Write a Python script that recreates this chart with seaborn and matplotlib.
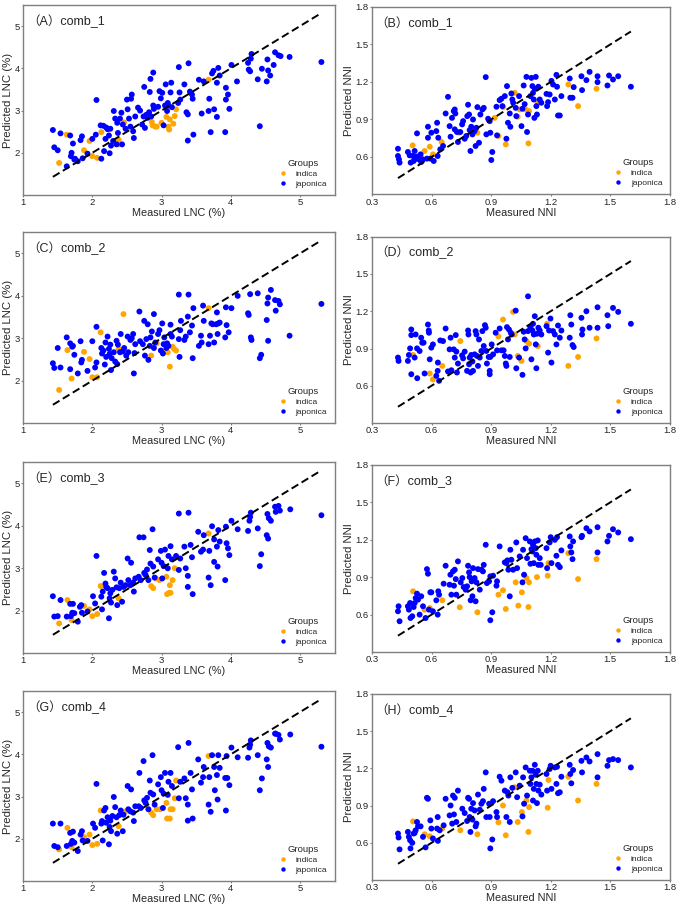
import pandas as pd
import matplotlib
matplotlib.use("Agg")
import matplotlib.pyplot as plt
import seaborn as sns

# ----------------------------
# Data: (measured, predicted) pairs per panel and group
# ----------------------------
A_indica = [(1.52, 1.76), (1.63, 2.43), (1.88, 2.06), (1.96, 2.28), (2.00, 1.92), (2.07, 1.88),
            (2.13, 2.49), (2.38, 2.31), (2.39, 2.20), (2.46, 2.72), (2.86, 2.73), (2.87, 2.65),
            (2.91, 2.62), (2.93, 2.62), (3.00, 2.71), (3.07, 2.85), (3.10, 2.62), (3.11, 2.55),
            (3.12, 2.79), (3.17, 2.69), (3.19, 2.87), (3.21, 3.03), (3.68, 3.73)]
A_japonica = [(1.43, 2.54), (1.45, 2.13), (1.50, 2.06), (1.54, 2.46), (1.63, 1.68), (1.68, 2.41),
              (1.69, 1.92), (1.70, 2.00), (1.72, 2.22), (1.74, 1.84), (1.75, 1.86), (1.79, 1.80),
              (1.83, 2.30), (1.85, 2.39), (1.86, 1.87), (1.93, 1.98), (2.00, 2.33), (2.05, 2.43),
              (2.06, 3.25), (2.12, 2.65), (2.13, 1.86), (2.16, 2.64), (2.17, 2.04), (2.19, 2.33),
              (2.20, 2.60), (2.22, 2.56), (2.24, 2.41), (2.25, 1.99), (2.26, 2.57), (2.27, 2.17),
              (2.30, 2.28), (2.31, 2.99), (2.33, 2.81), (2.35, 2.20), (2.36, 2.71), (2.37, 2.47),
              (2.40, 2.81), (2.42, 2.95), (2.43, 2.20), (2.44, 2.67), (2.48, 2.57), (2.50, 3.26),
              (2.51, 3.03), (2.53, 2.81), (2.55, 2.62), (2.56, 3.28), (2.57, 3.38), (2.59, 2.51),
              (2.60, 2.35), (2.62, 2.86), (2.66, 3.07), (2.69, 3.00), (2.72, 2.67), (2.74, 2.86),
              (2.75, 3.56), (2.76, 2.59), (2.78, 2.90), (2.80, 2.83), (2.82, 2.96), (2.83, 3.44),
              (2.84, 3.75), (2.85, 2.86), (2.88, 3.90), (2.88, 3.12), (2.89, 3.04), (2.95, 3.09),
              (2.97, 3.46), (2.99, 3.29), (3.01, 3.42), (3.03, 2.65), (3.05, 3.12), (3.06, 3.62),
              (3.08, 2.99), (3.09, 3.18), (3.10, 3.12), (3.13, 3.43), (3.14, 3.66), (3.15, 3.08),
              (3.24, 3.18), (3.25, 4.03), (3.26, 3.43), (3.27, 3.26), (3.33, 3.62), (3.36, 2.96),
              (3.38, 2.91), (3.38, 2.29), (3.39, 4.12), (3.41, 3.45), (3.44, 3.38), (3.45, 3.28),
              (3.46, 2.43), (3.54, 3.73), (3.58, 2.93), (3.61, 3.69), (3.68, 2.99), (3.69, 3.28),
              (3.71, 2.49), (3.73, 3.88), (3.75, 3.94), (3.76, 3.03), (3.80, 3.66), (3.80, 2.85),
              (3.82, 4.01), (3.84, 3.83), (3.92, 2.49), (3.93, 3.54), (3.93, 3.26), (3.96, 3.38),
              (3.98, 3.04), (4.01, 4.08), (4.09, 3.69), (4.25, 4.13), (4.26, 3.97), (4.28, 3.93),
              (4.29, 4.23), (4.30, 4.34), (4.39, 3.74), (4.42, 2.63), (4.45, 3.99), (4.52, 3.69),
              (4.53, 4.21), (4.54, 3.95), (4.57, 3.83), (4.62, 4.08), (4.64, 4.38), (4.69, 4.31),
              (4.72, 4.29), (4.85, 4.27), (5.31, 4.15)]

B_indica = [(0.505, 0.693), (0.565, 0.648), (0.591, 0.682), (0.607, 0.621), (0.651, 0.720),
            (0.738, 0.794), (0.831, 0.794), (0.918, 0.913), (0.937, 0.768), (0.960, 0.999),
            (0.974, 0.701), (1.019, 1.113), (1.034, 0.922), (1.044, 0.980), (1.074, 0.980),
            (1.088, 0.709), (1.091, 0.967), (1.135, 1.034), (1.289, 1.180), (1.338, 1.007),
            (1.431, 1.146)]
B_japonica = [(0.431, 0.666), (0.431, 0.608), (0.436, 0.581), (0.439, 0.555), (0.481, 0.640),
              (0.490, 0.613), (0.495, 0.555), (0.507, 0.608), (0.510, 0.568), (0.515, 0.648),
              (0.520, 0.587), (0.527, 0.789), (0.527, 0.603), (0.537, 0.581), (0.545, 0.621),
              (0.548, 0.560), (0.557, 0.581), (0.577, 0.587), (0.582, 0.842), (0.582, 0.754),
              (0.594, 0.587), (0.599, 0.794), (0.611, 0.568), (0.624, 0.807), (0.628, 0.874),
              (0.631, 0.608), (0.634, 0.754), (0.644, 0.661), (0.658, 0.688), (0.671, 0.948),
              (0.683, 1.081), (0.691, 0.847), (0.696, 0.762), (0.703, 0.913), (0.712, 0.967),
              (0.717, 0.980), (0.720, 0.948), (0.717, 0.821), (0.728, 0.800), (0.733, 0.720),
              (0.745, 0.800), (0.754, 0.861), (0.759, 0.887), (0.767, 0.746), (0.775, 0.768),
              (0.780, 0.927), (0.784, 1.018), (0.789, 0.940), (0.792, 0.815), (0.796, 0.648),
              (0.800, 0.842), (0.806, 0.781), (0.809, 0.900), (0.817, 0.807), (0.826, 0.834),
              (0.822, 0.688), (0.831, 0.999), (0.839, 0.714), (0.846, 0.940), (0.856, 0.980),
              (0.863, 0.993), (0.873, 1.239), (0.876, 0.781), (0.885, 0.906), (0.893, 0.887),
              (0.896, 0.794), (0.901, 0.576), (0.906, 0.640), (0.927, 1.002), (0.930, 0.773),
              (0.943, 1.055), (0.952, 1.066), (0.957, 1.007), (0.969, 1.087), (0.977, 0.746),
              (0.980, 1.167), (0.985, 0.874), (0.994, 0.948), (0.997, 0.842), (1.002, 1.108),
              (1.007, 1.060), (1.011, 1.034), (1.024, 0.993), (1.027, 0.927), (1.041, 1.087),
              (1.053, 0.847), (1.058, 0.986), (1.064, 1.172), (1.069, 1.023), (1.078, 1.241),
              (1.081, 0.800), (1.086, 0.940), (1.098, 1.087), (1.103, 1.233), (1.108, 1.167),
              (1.111, 1.113), (1.115, 1.060), (1.118, 0.913), (1.120, 1.146), (1.125, 1.241),
              (1.128, 1.007), (1.131, 0.940), (1.138, 1.162), (1.145, 1.060), (1.153, 1.034),
              (1.179, 1.105), (1.182, 1.007), (1.187, 1.039), (1.195, 1.100), (1.204, 1.209),
              (1.212, 1.180), (1.221, 1.060), (1.229, 1.257), (1.232, 1.162), (1.237, 0.932),
              (1.246, 0.932), (1.254, 1.087), (1.296, 1.228), (1.299, 1.074), (1.310, 1.074),
              (1.316, 1.159), (1.355, 1.246), (1.358, 1.135), (1.380, 1.215), (1.396, 1.281),
              (1.436, 1.246), (1.436, 1.199), (1.486, 1.172), (1.494, 1.252), (1.514, 1.220),
              (1.540, 1.246), (1.604, 1.162)]

C_indica = [(1.52, 1.78), (1.64, 2.72), (1.70, 2.05), (1.88, 2.68), (1.96, 2.51), (2.00, 2.08),
            (2.07, 2.08), (2.12, 3.14), (2.38, 2.75), (2.45, 3.57), (2.85, 2.59), (2.93, 2.88),
            (3.05, 2.69), (3.09, 2.67), (3.12, 2.33), (3.16, 2.80), (3.18, 2.75), (3.21, 2.71),
            (3.68, 3.71)]
C_japonica = [(1.43, 2.41), (1.45, 2.30), (1.50, 2.77), (1.54, 2.31), (1.63, 3.02), (1.68, 2.27),
              (1.68, 2.88), (1.71, 2.80), (1.72, 2.82), (1.74, 2.61), (1.79, 2.17), (1.83, 2.93),
              (1.84, 2.43), (1.85, 2.49), (1.93, 2.23), (2.00, 2.93), (2.04, 2.31), (2.06, 3.27),
              (2.06, 2.43), (2.13, 2.77), (2.14, 2.64), (2.16, 2.71), (2.18, 2.38), (2.19, 2.90),
              (2.20, 2.56), (2.22, 3.04), (2.24, 2.75), (2.25, 2.63), (2.26, 2.85), (2.27, 2.25),
              (2.28, 2.53), (2.31, 2.67), (2.33, 2.45), (2.35, 2.94), (2.36, 2.39), (2.37, 2.85),
              (2.40, 2.67), (2.41, 3.10), (2.44, 2.69), (2.46, 2.77), (2.49, 2.59), (2.51, 3.04),
              (2.52, 2.67), (2.55, 2.96), (2.57, 3.00), (2.59, 3.10), (2.60, 2.17), (2.61, 2.65),
              (2.62, 2.86), (2.68, 3.63), (2.69, 2.93), (2.73, 2.86), (2.75, 3.41), (2.76, 2.59),
              (2.78, 2.98), (2.80, 3.33), (2.81, 2.49), (2.83, 2.82), (2.84, 3.02), (2.86, 3.16),
              (2.89, 3.57), (2.89, 2.77), (2.91, 2.90), (2.95, 3.10), (2.97, 3.19), (2.99, 2.71),
              (3.01, 3.35), (3.02, 2.64), (3.03, 2.86), (3.04, 3.02), (3.07, 2.77), (3.08, 2.88),
              (3.10, 2.82), (3.13, 3.32), (3.13, 3.10), (3.15, 3.04), (3.25, 4.03), (3.25, 2.98),
              (3.26, 2.56), (3.27, 3.19), (3.28, 3.41), (3.33, 2.96), (3.35, 3.04), (3.38, 3.51),
              (3.39, 4.03), (3.41, 3.14), (3.44, 3.30), (3.45, 2.53), (3.46, 3.71), (3.54, 2.82),
              (3.57, 3.06), (3.58, 2.90), (3.60, 3.77), (3.61, 3.41), (3.68, 2.86), (3.70, 3.06),
              (3.72, 3.35), (3.74, 3.33), (3.76, 2.90), (3.79, 3.33), (3.80, 3.61), (3.81, 3.10),
              (3.82, 3.35), (3.84, 3.37), (3.92, 3.02), (3.93, 3.73), (3.94, 3.31), (3.97, 3.14),
              (4.01, 3.71), (4.10, 4.00), (4.25, 3.59), (4.26, 3.55), (4.28, 4.04), (4.29, 3.02),
              (4.30, 2.96), (4.39, 4.06), (4.42, 2.53), (4.44, 2.61), (4.52, 3.43), (4.53, 3.82),
              (4.54, 3.96), (4.54, 2.94), (4.58, 4.14), (4.64, 3.90), (4.65, 3.65), (4.69, 3.88),
              (4.71, 3.80), (4.85, 3.06), (5.31, 3.81)]

D_indica = [(0.507, 0.848), (0.591, 0.699), (0.607, 0.651), (0.654, 0.760), (0.745, 0.960),
            (0.937, 0.997), (0.960, 1.133), (1.011, 1.195), (1.019, 1.013), (1.034, 0.840),
            (1.053, 0.800), (1.078, 0.960), (1.091, 0.939), (1.135, 0.920), (1.182, 1.099),
            (1.289, 0.760), (1.338, 0.832), (1.431, 0.981)]
D_japonica = [(0.431, 0.827), (0.434, 0.800), (0.481, 0.800), (0.486, 0.848), (0.492, 0.901),
              (0.498, 1.053), (0.498, 1.008), (0.498, 0.693), (0.515, 0.827), (0.520, 1.013),
              (0.527, 0.901), (0.528, 0.661), (0.540, 0.880), (0.548, 0.987), (0.553, 0.947),
              (0.560, 0.947), (0.565, 0.699), (0.582, 1.093), (0.586, 1.045), (0.587, 1.027),
              (0.591, 0.813), (0.599, 0.907), (0.607, 0.933), (0.624, 0.680), (0.631, 0.720),
              (0.632, 0.787), (0.638, 0.640), (0.644, 0.965), (0.658, 0.960), (0.671, 1.061),
              (0.683, 0.715), (0.691, 0.893), (0.696, 0.987), (0.700, 0.725), (0.712, 0.893),
              (0.717, 0.827), (0.722, 1.008), (0.725, 0.875), (0.728, 0.707), (0.733, 0.779),
              (0.754, 0.845), (0.759, 0.821), (0.767, 0.875), (0.779, 0.720), (0.784, 1.045),
              (0.786, 1.013), (0.789, 0.773), (0.792, 0.827), (0.797, 0.707), (0.800, 0.848),
              (0.806, 0.795), (0.809, 0.720), (0.817, 0.853), (0.822, 1.040), (0.826, 1.013),
              (0.829, 0.840), (0.834, 0.760), (0.839, 0.973), (0.843, 0.827), (0.851, 0.880),
              (0.856, 1.040), (0.863, 0.920), (0.869, 1.088), (0.873, 1.067), (0.876, 0.880),
              (0.879, 0.779), (0.888, 0.832), (0.893, 0.720), (0.893, 0.693), (0.896, 0.832),
              (0.903, 0.933), (0.910, 0.853), (0.923, 1.027), (0.930, 0.885), (0.943, 1.061),
              (0.952, 0.885), (0.963, 0.885), (0.969, 0.840), (0.974, 0.779), (0.977, 0.760),
              (0.980, 1.072), (0.985, 0.973), (0.990, 1.053), (0.994, 0.832), (0.999, 1.027),
              (1.004, 1.013), (1.024, 1.205), (1.027, 0.741), (1.041, 0.827), (1.058, 0.688),
              (1.064, 1.035), (1.069, 0.973), (1.074, 0.901), (1.086, 1.320), (1.086, 1.040),
              (1.098, 1.067), (1.103, 0.813), (1.108, 1.045), (1.111, 1.099), (1.115, 1.013),
              (1.120, 1.160), (1.125, 0.933), (1.128, 0.741), (1.131, 1.019), (1.138, 1.067),
              (1.145, 1.045), (1.153, 1.013), (1.179, 1.080), (1.187, 0.867), (1.192, 1.045),
              (1.199, 1.141), (1.204, 0.787), (1.212, 1.040), (1.221, 1.013), (1.229, 0.933),
              (1.237, 1.085), (1.246, 0.987), (1.254, 1.045), (1.296, 0.987), (1.299, 1.168),
              (1.304, 1.093), (1.310, 0.928), (1.316, 0.912), (1.355, 1.147), (1.360, 1.053),
              (1.358, 1.013), (1.380, 1.200), (1.396, 1.067), (1.436, 1.232), (1.436, 1.067),
              (1.486, 1.168), (1.490, 1.080), (1.514, 1.227), (1.540, 1.195), (1.604, 1.099)]

E_indica = [(1.52, 1.70), (1.64, 2.25), (1.70, 1.78), (1.88, 2.11), (1.96, 2.03), (2.00, 1.87),
            (2.07, 1.92), (2.12, 2.58), (2.38, 2.29), (2.85, 2.58), (2.88, 2.53), (2.92, 2.76),
            (2.97, 2.72), (3.07, 2.80), (3.08, 2.39), (3.11, 2.42), (3.12, 2.60), (3.13, 2.42),
            (3.16, 2.72), (3.19, 3.00), (3.68, 3.82)]
E_japonica = [(1.43, 2.34), (1.45, 1.86), (1.50, 1.87), (1.54, 2.25), (1.63, 1.86), (1.68, 2.16),
              (1.69, 1.87), (1.71, 1.95), (1.72, 2.16), (1.74, 1.94), (1.79, 1.74), (1.82, 2.09),
              (1.84, 2.13), (1.85, 1.95), (1.93, 1.98), (2.01, 2.34), (2.04, 2.17), (2.06, 3.29),
              (2.13, 2.33), (2.14, 2.03), (2.15, 2.45), (2.17, 2.89), (2.19, 2.64), (2.20, 2.56),
              (2.22, 2.53), (2.24, 1.82), (2.25, 2.29), (2.26, 2.41), (2.27, 2.19), (2.29, 2.49),
              (2.31, 2.92), (2.33, 2.76), (2.35, 2.55), (2.36, 2.13), (2.39, 2.53), (2.41, 2.66),
              (2.43, 2.21), (2.45, 2.56), (2.48, 2.60), (2.51, 3.23), (2.52, 2.72), (2.55, 2.60),
              (2.56, 3.13), (2.59, 2.66), (2.60, 2.45), (2.62, 2.76), (2.67, 2.80), (2.68, 3.73),
              (2.70, 2.72), (2.74, 3.73), (2.75, 2.89), (2.77, 2.84), (2.79, 2.97), (2.81, 2.72),
              (2.83, 3.43), (2.84, 3.11), (2.87, 3.92), (2.88, 3.04), (2.90, 2.78), (2.95, 3.21),
              (2.99, 3.41), (3.00, 3.13), (3.01, 2.76), (3.03, 3.05), (3.05, 3.44), (3.09, 3.00),
              (3.10, 3.29), (3.13, 3.52), (3.15, 3.21), (3.21, 3.29), (3.25, 4.29), (3.25, 2.96),
              (3.27, 3.23), (3.33, 3.51), (3.35, 3.00), (3.38, 2.82), (3.38, 2.56), (3.39, 4.31),
              (3.42, 3.55), (3.44, 3.26), (3.45, 2.39), (3.53, 3.86), (3.57, 3.39), (3.60, 3.44),
              (3.61, 3.78), (3.68, 2.78), (3.69, 3.41), (3.71, 2.60), (3.73, 3.99), (3.76, 3.68),
              (3.76, 3.15), (3.80, 3.51), (3.81, 3.04), (3.82, 3.90), (3.84, 3.63), (3.92, 2.72),
              (3.93, 3.98), (3.94, 3.59), (3.96, 3.47), (3.98, 3.31), (4.01, 4.12), (4.10, 3.92),
              (4.25, 3.88), (4.27, 4.12), (4.28, 4.21), (4.29, 4.31), (4.39, 3.94), (4.42, 3.05),
              (4.44, 3.33), (4.52, 3.78), (4.53, 4.28), (4.54, 3.70), (4.55, 4.18), (4.58, 4.12),
              (4.64, 4.45), (4.65, 4.33), (4.69, 4.47), (4.71, 4.36), (4.86, 4.39), (5.31, 4.25)]

F_indica = [(0.507, 0.787), (0.565, 0.640), (0.591, 0.653), (0.654, 0.715), (0.742, 0.659),
            (0.831, 0.619), (0.937, 0.760), (0.960, 0.795), (0.974, 0.645), (1.024, 0.859),
            (1.037, 0.672), (1.055, 0.779), (1.078, 0.893), (1.088, 0.661), (1.091, 0.859),
            (1.131, 0.901), (1.185, 0.912), (1.189, 1.013), (1.289, 1.093), (1.338, 0.885),
            (1.431, 1.045)]
F_japonica = [(0.431, 0.627), (0.434, 0.667), (0.439, 0.547), (0.481, 0.667), (0.486, 0.640),
              (0.492, 0.693), (0.494, 0.573), (0.503, 0.587), (0.510, 0.661), (0.515, 0.693),
              (0.520, 0.733), (0.527, 0.768), (0.532, 0.720), (0.540, 0.600), (0.548, 0.747),
              (0.557, 0.667), (0.570, 0.573), (0.577, 0.965), (0.582, 0.928), (0.587, 0.640),
              (0.594, 0.779), (0.599, 0.779), (0.607, 0.627), (0.624, 0.715), (0.631, 0.600),
              (0.634, 0.787), (0.638, 0.760), (0.661, 0.848), (0.671, 0.992), (0.691, 0.840),
              (0.695, 0.920), (0.700, 0.760), (0.708, 0.947), (0.713, 0.832), (0.717, 0.960),
              (0.722, 0.885), (0.725, 0.760), (0.733, 1.027), (0.747, 0.859), (0.755, 0.893),
              (0.762, 0.821), (0.772, 0.800), (0.779, 0.827), (0.784, 0.992), (0.789, 0.939),
              (0.792, 0.901), (0.797, 0.715), (0.802, 0.867), (0.806, 0.747), (0.809, 0.973),
              (0.817, 0.893), (0.826, 0.859), (0.822, 0.707), (0.834, 0.965), (0.843, 0.800),
              (0.851, 0.960), (0.859, 0.947), (0.863, 0.999), (0.873, 1.160), (0.879, 0.853),
              (0.890, 0.867), (0.896, 0.907), (0.896, 0.555), (0.906, 0.619), (0.910, 0.912),
              (0.927, 0.832), (0.930, 0.867), (0.943, 1.147), (0.969, 1.019), (0.977, 1.013),
              (0.982, 1.035), (0.987, 0.960), (0.994, 0.747), (0.997, 1.120), (1.002, 1.040),
              (1.011, 0.960), (1.027, 1.179), (1.031, 0.973), (1.044, 1.067), (1.058, 0.859),
              (1.061, 1.120), (1.066, 0.920), (1.074, 1.213), (1.081, 1.053), (1.095, 1.187),
              (1.098, 1.008), (1.103, 1.125), (1.108, 1.107), (1.111, 1.160), (1.115, 1.013),
              (1.120, 1.187), (1.125, 1.133), (1.128, 1.080), (1.135, 1.195), (1.138, 0.999),
              (1.145, 1.053), (1.150, 0.999), (1.179, 1.133), (1.182, 0.973), (1.195, 1.179),
              (1.200, 1.221), (1.204, 1.013), (1.221, 1.200), (1.229, 1.072), (1.232, 1.221),
              (1.237, 0.999), (1.246, 0.981), (1.254, 1.115), (1.296, 1.227), (1.299, 1.147),
              (1.304, 1.099), (1.310, 1.045), (1.313, 1.187), (1.355, 1.221), (1.358, 1.232),
              (1.380, 1.293), (1.396, 1.267), (1.436, 1.301), (1.436, 1.099), (1.486, 1.187),
              (1.494, 1.232), (1.514, 1.285), (1.540, 1.259), (1.604, 1.205)]

G_indica = [(1.52, 1.75), (1.64, 2.26), (1.70, 1.80), (1.88, 2.04), (1.96, 2.10), (2.00, 1.85),
            (2.07, 1.88), (2.12, 2.67), (2.38, 2.30), (2.48, 2.65), (2.85, 2.62), (2.88, 2.56),
            (2.93, 2.70), (2.98, 2.70), (3.07, 2.85), (3.08, 2.48), (3.12, 2.48), (3.13, 2.70),
            (3.16, 2.70), (3.19, 2.96), (3.21, 3.38), (3.68, 3.96)]
G_japonica = [(1.43, 2.36), (1.45, 1.83), (1.50, 1.80), (1.54, 2.36), (1.63, 1.83), (1.68, 2.14),
              (1.69, 1.88), (1.71, 1.95), (1.72, 2.17), (1.74, 1.91), (1.79, 1.71), (1.83, 2.10),
              (1.85, 2.18), (1.86, 1.96), (1.93, 1.95), (2.01, 2.36), (2.04, 2.26), (2.06, 3.30),
              (2.13, 2.36), (2.14, 2.42), (2.15, 1.96), (2.17, 2.67), (2.19, 2.73), (2.20, 2.38),
              (2.22, 2.51), (2.24, 1.87), (2.25, 2.28), (2.26, 2.43), (2.27, 2.18), (2.29, 2.54),
              (2.31, 2.99), (2.33, 2.75), (2.35, 2.51), (2.36, 2.12), (2.39, 2.56), (2.41, 2.67),
              (2.44, 2.18), (2.45, 2.57), (2.51, 3.25), (2.52, 2.70), (2.55, 2.65), (2.56, 3.17),
              (2.59, 2.62), (2.60, 2.42), (2.62, 2.77), (2.67, 2.77), (2.68, 3.56), (2.70, 2.73),
              (2.74, 3.84), (2.75, 2.91), (2.77, 2.85), (2.79, 2.97), (2.81, 2.70), (2.83, 3.38),
              (2.84, 3.09), (2.87, 3.98), (2.88, 3.05), (2.90, 2.81), (2.95, 3.29), (2.99, 3.46),
              (3.00, 3.15), (3.02, 2.73), (3.03, 3.07), (3.05, 3.56), (3.09, 3.04), (3.10, 3.35),
              (3.13, 3.56), (3.15, 3.25), (3.24, 4.17), (3.25, 2.96), (3.27, 3.35), (3.33, 3.43),
              (3.35, 2.96), (3.38, 2.81), (3.38, 2.43), (3.39, 4.27), (3.42, 3.56), (3.44, 3.17),
              (3.45, 2.48), (3.53, 3.88), (3.57, 3.33), (3.60, 3.46), (3.61, 3.70), (3.68, 2.81),
              (3.69, 3.46), (3.71, 2.64), (3.73, 3.98), (3.76, 3.70), (3.77, 3.15), (3.80, 3.51),
              (3.81, 2.93), (3.82, 3.98), (3.84, 3.68), (3.92, 3.44), (3.93, 2.67), (3.94, 3.96),
              (3.95, 3.44), (3.98, 3.27), (4.01, 4.16), (4.10, 3.93), (4.25, 3.92), (4.27, 4.16),
              (4.28, 4.23), (4.29, 4.33), (4.39, 3.98), (4.42, 3.15), (4.45, 3.43), (4.52, 3.88),
              (4.53, 4.27), (4.54, 3.70), (4.55, 4.19), (4.58, 4.16), (4.64, 4.49), (4.65, 4.49),
              (4.69, 4.46), (4.71, 4.35), (4.86, 4.47), (5.31, 4.18)]

H_indica = [(0.507, 0.773), (0.565, 0.669), (0.591, 0.653), (0.654, 0.715), (0.745, 0.701),
            (0.831, 0.669), (0.937, 0.765), (0.960, 0.901), (0.974, 0.661), (1.019, 1.048),
            (1.034, 0.768), (1.055, 0.848), (1.078, 0.941), (1.088, 0.688), (1.091, 0.888),
            (1.185, 0.883), (1.189, 1.107), (1.289, 1.133), (1.338, 0.941), (1.431, 1.075)]
H_japonica = [(0.431, 0.675), (0.434, 0.643), (0.439, 0.547), (0.481, 0.688), (0.486, 0.648),
              (0.492, 0.621), (0.494, 0.555), (0.503, 0.600), (0.510, 0.675), (0.515, 0.680),
              (0.520, 0.701), (0.527, 0.768), (0.532, 0.733), (0.545, 0.733), (0.557, 0.648),
              (0.570, 0.563), (0.577, 0.963), (0.582, 0.955), (0.594, 0.781), (0.599, 0.715),
              (0.607, 0.635), (0.628, 0.715), (0.631, 0.808), (0.632, 0.616), (0.641, 0.701),
              (0.661, 0.741), (0.671, 0.955), (0.691, 0.821), (0.696, 0.901), (0.704, 0.755),
              (0.708, 0.981), (0.713, 0.829), (0.717, 0.963), (0.725, 0.768), (0.733, 1.021),
              (0.755, 0.875), (0.767, 0.840), (0.779, 0.776), (0.784, 0.963), (0.789, 0.955),
              (0.792, 0.808), (0.796, 0.688), (0.800, 0.875), (0.806, 0.787), (0.809, 0.920),
              (0.817, 0.861), (0.822, 0.733), (0.826, 0.755), (0.834, 0.989), (0.843, 0.867),
              (0.851, 0.915), (0.859, 0.936), (0.863, 1.035), (0.873, 1.168), (0.876, 0.808),
              (0.890, 0.915), (0.893, 0.808), (0.896, 0.555), (0.906, 0.627), (0.910, 0.936),
              (0.927, 0.848), (0.930, 0.808), (0.943, 1.133), (0.952, 1.101), (0.969, 1.021),
              (0.977, 0.808), (0.982, 1.008), (0.987, 0.981), (0.994, 0.768), (0.997, 1.128),
              (1.007, 1.043), (1.024, 1.168), (1.031, 0.968), (1.044, 1.061), (1.058, 0.813),
              (1.061, 1.128), (1.066, 0.915), (1.074, 1.208), (1.081, 0.981), (1.095, 1.181),
              (1.098, 1.075), (1.103, 1.128), (1.108, 1.181), (1.111, 0.941), (1.115, 1.035),
              (1.120, 1.229), (1.125, 1.149), (1.128, 1.075), (1.131, 0.920), (1.135, 1.181),
              (1.138, 1.021), (1.145, 1.069), (1.153, 0.989), (1.179, 1.155), (1.182, 1.021),
              (1.195, 1.195), (1.200, 1.221), (1.204, 1.035), (1.221, 1.208), (1.229, 1.075),
              (1.232, 1.213), (1.237, 1.000), (1.246, 1.008), (1.254, 1.133), (1.296, 1.229),
              (1.299, 1.155), (1.304, 1.080), (1.313, 1.187), (1.355, 1.261), (1.358, 1.168),
              (1.380, 1.288), (1.396, 1.256), (1.436, 1.315), (1.436, 1.128), (1.486, 1.221),
              (1.494, 1.267), (1.514, 1.275), (1.540, 1.267), (1.604, 1.208)]

# panel letters, model names, and the data behind each panel
PANEL_LETTERS = ["A", "B", "C", "D", "E", "F", "G", "H"]
PANEL_COMBS = ["comb_1", "comb_1", "comb_2", "comb_2", "comb_3", "comb_3", "comb_4", "comb_4"]
PANEL_DATA = [(A_indica, A_japonica), (B_indica, B_japonica), (C_indica, C_japonica),
              (D_indica, D_japonica), (E_indica, E_japonica), (F_indica, F_japonica),
              (G_indica, G_japonica), (H_indica, H_japonica)]

LNC_TICKS_X = [1, 2, 3, 4, 5]
LNC_TICKS_Y = [2, 3, 4, 5]
NNI_TICKS_X = [0.3, 0.6, 0.9, 1.2, 1.5, 1.8]
NNI_TICKS_Y = [0.6, 0.9, 1.2, 1.5, 1.8]

GROUP_ORDER = ["indica", "japonica"]
PALETTE = {"indica": "#FFA500", "japonica": "#0000FF"}

# axes rectangles [left, bottom, width, height] in figure fraction
LEFT_POS = [[0.034, 0.7852, 0.458, 0.2093], [0.034, 0.5341, 0.458, 0.2101],
            [0.034, 0.2808, 0.458, 0.2101], [0.034, 0.0297, 0.458, 0.2093]]
RIGHT_POS = [[0.547, 0.7858, 0.438, 0.2065], [0.547, 0.5341, 0.438, 0.2052],
             [0.547, 0.2819, 0.438, 0.2060], [0.547, 0.0308, 0.438, 0.2049]]

# ----------------------------
# Style
# ----------------------------
sns.set_style("ticks")
plt.rcParams["font.family"] = ["Liberation Sans", "Noto Sans CJK SC", "DejaVu Sans"]
SPINE_GRAY = "#7f7f7f"
TEXT_COLOR = "#262626"


def to_frame(indica, japonica):
    rows = [(x, y, "indica") for x, y in indica] + [(x, y, "japonica") for x, y in japonica]
    return pd.DataFrame(rows, columns=["Measured", "Predicted", "Groups"])


fig = plt.figure(figsize=(6.8, 9.08), dpi=100)

for i, letter in enumerate(PANEL_LETTERS):
    row, col = divmod(i, 2)
    pos = LEFT_POS[row] if col == 0 else RIGHT_POS[row]
    ax = fig.add_axes(pos)
    df = to_frame(*PANEL_DATA[i])

    sns.scatterplot(data=df, x="Measured", y="Predicted", hue="Groups",
                    hue_order=GROUP_ORDER, palette=PALETTE, s=18, linewidth=0,
                    ax=ax)

    # 1:1 line over the measured range
    lo, hi = df["Measured"].min(), df["Measured"].max()
    ax.plot([lo, hi], [lo, hi], color="black", linestyle=(0, (4, 2)), linewidth=1.4)

    if col == 0:
        ax.set_xlim(1, 5.5)
        ax.set_ylim(1, 5.5)
        ax.set_xticks(LNC_TICKS_X)
        ax.set_yticks(LNC_TICKS_Y)
        xlab, ylab = "Measured LNC (%)", "Predicted LNC (%)"
    else:
        ax.set_xlim(0.3, 1.8)
        ax.set_ylim(0.3, 1.8)
        ax.set_xticks(NNI_TICKS_X)
        ax.set_yticks(NNI_TICKS_Y)
        ax.set_xticklabels([f"{t:.1f}" for t in NNI_TICKS_X])
        ax.set_yticklabels([f"{t:.1f}" for t in NNI_TICKS_Y])
        xlab, ylab = "Measured NNI", "Predicted NNI"
    ax.set_xlabel(xlab, fontsize=7.8, labelpad=1, color=TEXT_COLOR)
    ax.set_ylabel(ylab, fontsize=8.2, labelpad=1, color=TEXT_COLOR)

    ax.tick_params(labelsize=6.8, length=1.2, width=0.8, pad=1.0,
                   color=SPINE_GRAY, labelcolor=TEXT_COLOR)
    for sp in ax.spines.values():
        sp.set_visible(True)
        sp.set_color(SPINE_GRAY)
        sp.set_linewidth(1.0)

    ax.text(0.012, 0.915, f"（{letter}）{PANEL_COMBS[i]}", transform=ax.transAxes,
            fontsize=9, ha="left", va="center", color=TEXT_COLOR,
            family=["Liberation Sans", "Noto Sans CJK SC"])

    sns.move_legend(ax, "lower right", frameon=False, fontsize=6, title_fontsize=6.8,
                    labelspacing=0.25, handletextpad=1.0, handlelength=1.0,
                    borderaxespad=0.5, markerscale=0.75)

fig.savefig("out.png", dpi=100)
plt.close(fig)
